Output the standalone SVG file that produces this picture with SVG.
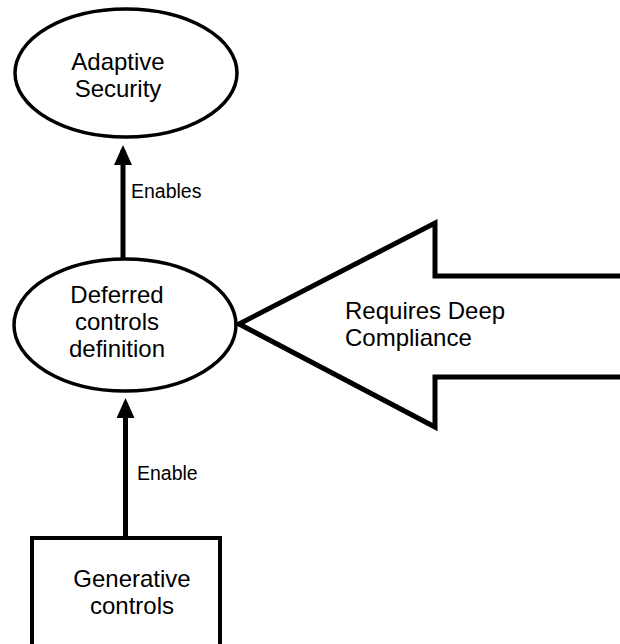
<svg xmlns="http://www.w3.org/2000/svg" width="620" height="644" viewBox="0 0 620 644">
<style>
.shape{fill:#fff;stroke:#000;stroke-width:3.5}
.big{fill:#fff;stroke:#000;stroke-width:5;stroke-linejoin:miter}
.t{font-family:"Liberation Sans",Arial,sans-serif;font-size:24px;fill:#000;text-anchor:middle}
.lbl{font-family:"Liberation Sans",Arial,sans-serif;font-size:19.5px;fill:#000}
.conn{stroke:#000;stroke-width:5;fill:none}
</style>
<defs>
<marker id="ah" markerWidth="4" markerHeight="3.6" refX="3" refY="1.8" orient="auto" markerUnits="strokeWidth">
<path d="M0,0 L4,1.8 L0,3.6 z" fill="#000"/>
</marker>
</defs>
<rect width="620" height="644" fill="#fff"/>
<g id="connectors">
<line class="conn" x1="123" y1="258" x2="123" y2="150" marker-end="url(#ah)"/>
<line class="conn" x1="125.5" y1="538" x2="125.5" y2="403" marker-end="url(#ah)"/>
<text class="lbl" x="131" y="198">Enables</text>
<text class="lbl" x="137" y="480">Enable</text>
</g>
<g id="adaptive-security">
<ellipse class="shape" cx="126" cy="73" rx="111" ry="64"/>
<text class="t" x="118" y="69.5">Adaptive</text>
<text class="t" x="118" y="96.5">Security</text>
</g>
<g id="deferred-controls">
<ellipse class="shape" cx="125" cy="325" rx="111" ry="66"/>
<text class="t" x="117" y="303">Deferred</text>
<text class="t" x="117" y="330">controls</text>
<text class="t" x="117" y="357">definition</text>
</g>
<g id="generative-controls">
<rect x="32" y="538" width="188" height="120" fill="#fff" stroke="#000" stroke-width="4"/>
<text class="t" x="132" y="587">Generative</text>
<text class="t" x="132" y="614">controls</text>
</g>
<g id="deep-compliance">
<path class="big" d="M625,276 L435,276 L435,223 L239,324 L435,427 L435,377 L625,377"/>
<text class="t" x="345" y="319" style="text-anchor:start">Requires Deep</text>
<text class="t" x="345" y="346" style="text-anchor:start">Compliance</text>
</g>
</svg>
